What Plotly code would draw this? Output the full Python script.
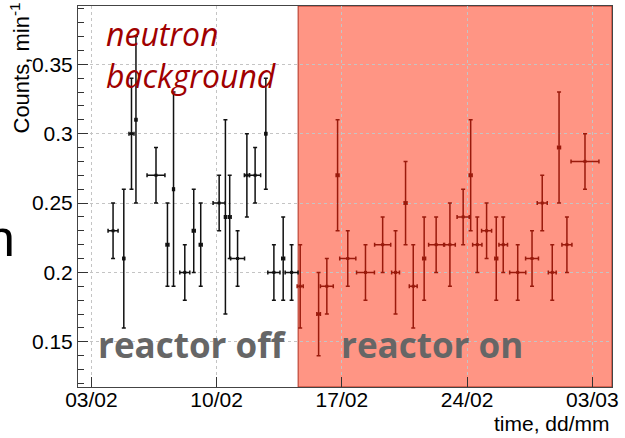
import pandas as pd
import plotly.graph_objects as go

# ---- data (x = days since 2017-02-03 00:00) ----
t0 = pd.Timestamp("2017-02-03")
t_off = [1.21, 1.81, 2.24, 2.49, 3.61, 4.25, 4.59, 5.22, 5.72, 6.11, 7.14, 7.49, 7.73, 8.17, 8.69, 9.15, 9.75, 10.2, 10.72, 11.19]
tw_off = [0.28, 0.05, 0.14, 0.05, 0.5, 0.08, 0.05, 0.28, 0.08, 0.08, 0.34, 0.05, 0.08, 0.39, 0.14, 0.31, 0.05, 0.34, 0.08, 0.36]
y_off = [0.23, 0.21, 0.30, 0.31, 0.27, 0.22, 0.26, 0.20, 0.23, 0.22, 0.25, 0.24, 0.24, 0.21, 0.27, 0.27, 0.30, 0.20, 0.21, 0.20]
e_off = [0.02, 0.05, 0.04, 0.06, 0.02, 0.03, 0.07, 0.02, 0.03, 0.03, 0.02, 0.07, 0.03, 0.02, 0.03, 0.02, 0.04, 0.02, 0.03, 0.02]

t_on = [11.67, 12.7, 13.16, 13.76, 14.33, 15.32, 16.28, 17.0, 17.56, 17.99, 18.6, 19.27, 20.04,
        20.78, 21.2, 21.57, 22.09, 22.63, 23.02, 23.83, 24.63, 25.2, 25.76, 26.14, 26.58, 27.59]
tw_on = [0.17, 0.1, 0.36, 0.08, 0.45, 0.5, 0.45, 0.22, 0.08, 0.22, 0.08, 0.42, 0.3,
         0.34, 0.08, 0.26, 0.28, 0.08, 0.24, 0.45, 0.36, 0.28, 0.22, 0.08, 0.28, 0.78]
y_on = [0.19, 0.17, 0.19, 0.27, 0.21, 0.20, 0.22, 0.20, 0.25, 0.19, 0.21, 0.22, 0.22,
        0.24, 0.27, 0.22, 0.23, 0.21, 0.22, 0.20, 0.21, 0.25, 0.20, 0.29, 0.22, 0.28]
e_on = [0.03, 0.03, 0.02, 0.04, 0.02, 0.02, 0.02, 0.03, 0.03, 0.03, 0.03, 0.02, 0.03,
        0.02, 0.04, 0.02, 0.02, 0.03, 0.02, 0.02, 0.02, 0.02, 0.02, 0.04, 0.02, 0.02]

reactor_on_start = 11.555
x_range = [-0.75, 29.1]
y_range = [0.1174, 0.392]
tick_days = [0, 7, 14, 21, 28]
tick_text = [(t0 + pd.Timedelta(days=d)).strftime("%d/%m") for d in tick_days]
y_ticks = [0.15, 0.2, 0.25, 0.3, 0.35]
y_ticktext = ["0.15", "0.2", "0.25", "0.3", "0.35"]

fig = go.Figure()

OFF_COL = "#111111"
ON_COL = "#9a1a0c"

fig.add_trace(go.Scatter(
    x=t_off, y=y_off, mode="markers",
    marker=dict(symbol="square", size=3, color=OFF_COL),
    error_x=dict(type="data", array=tw_off, color=OFF_COL, thickness=1.5, width=2),
    error_y=dict(type="data", array=e_off, color=OFF_COL, thickness=1.5, width=2),
    showlegend=False,
))
fig.add_trace(go.Scatter(
    x=t_on, y=y_on, mode="markers",
    marker=dict(symbol="square", size=3, color=ON_COL),
    error_x=dict(type="data", array=tw_on, color=ON_COL, thickness=1.5, width=2),
    error_y=dict(type="data", array=e_on, color=ON_COL, thickness=1.5, width=2),
    showlegend=False,
))

fig.add_shape(type="rect", xref="x", yref="paper",
              x0=reactor_on_start, x1=x_range[1], y0=0, y1=1,
              fillcolor="#ff9584", line=dict(color="#b03020", width=1), layer="below")

W, H = 625, 438
L, R, T, B = 78, 13, 6, 51
pw, ph = W - L - R, H - T - B


def px(x):
    return (x - L) / pw


def py(y):
    return (H - B - y) / ph


GRID = "#c4c4c4"
fig.update_xaxes(
    range=x_range, tickvals=tick_days, ticktext=tick_text,
    ticks="inside", ticklen=10, tickcolor="#333",
    showgrid=True, gridcolor=GRID, griddash="dot", gridwidth=1,
    showline=True, linecolor="#444", linewidth=1, mirror=True,
    zeroline=False, ticklabelstandoff=-6,
    tickfont=dict(family="Liberation Sans", size=21, color="black"),
)
fig.update_yaxes(
    range=y_range, tickvals=y_ticks, ticktext=y_ticktext,
    ticks="inside", ticklen=10, tickcolor="#333",
    minor=dict(dtick=0.01, tick0=0, ticks="inside", ticklen=6, tickcolor="#333", showgrid=False),
    showgrid=True, gridcolor=GRID, griddash="dot", gridwidth=1,
    showline=True, linecolor="#444", linewidth=1, mirror=True,
    zeroline=False,
    tickfont=dict(family="Liberation Sans", size=21, color="black"),
)

ann = []
ann.append(dict(text="Counts, min<sup>-1</sup>", textangle=-90, xref="paper", yref="paper",
                x=px(19), y=py(1), xanchor="center", yanchor="top", showarrow=False,
                font=dict(family="Liberation Sans", size=22, color="black")))
ann.append(dict(text="time, dd/mm", xref="paper", yref="paper",
                x=px(612), y=py(423), xanchor="right", yanchor="middle", showarrow=False,
                font=dict(family="Liberation Sans", size=21, color="black")))
ann.append(dict(text="<i>neutron<br>background</i>", xref="paper", yref="paper",
                x=px(104), y=py(10), xanchor="left", yanchor="top", align="left", showarrow=False,
                font=dict(family="Open Sans", size=32, color="#a00000")))
ann.append(dict(text="<b>reactor off</b>", xref="paper", yref="paper",
                x=px(96), y=py(344), xanchor="left", yanchor="middle", showarrow=False,
                font=dict(family="Open Sans", size=35, color="#666666")))
ann.append(dict(text="<b>reactor on</b>", xref="paper", yref="paper",
                x=px(339), y=py(344), xanchor="left", yanchor="middle", showarrow=False,
                font=dict(family="Open Sans", size=35, color="#666666")))
ann.append(dict(text="n", xref="paper", yref="paper",
                x=px(17), y=py(238), xanchor="right", yanchor="middle", showarrow=False,
                font=dict(family="Liberation Sans", size=52, color="black")))

fig.update_layout(
    width=W, height=H, margin=dict(l=L, r=R, t=T, b=B),
    paper_bgcolor="white", plot_bgcolor="white",
    annotations=ann,
)

fig.write_html("out.html")
